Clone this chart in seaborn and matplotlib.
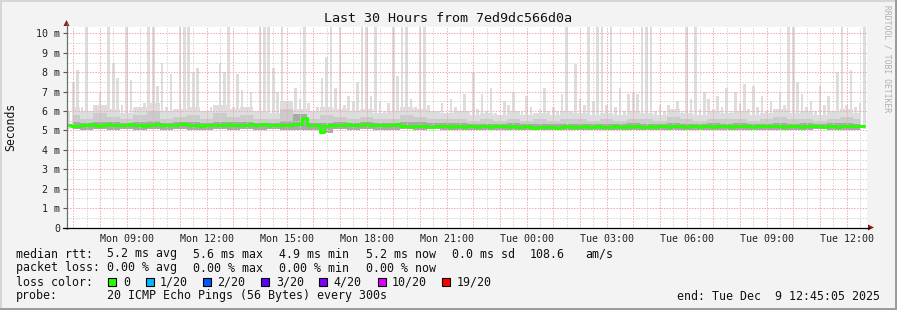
import numpy as np
import pandas as pd
import matplotlib
matplotlib.use("Agg")
import matplotlib.pyplot as plt
import seaborn as sns
from matplotlib.lines import Line2D
from matplotlib.patches import Rectangle, Polygon

# ---------------- data ----------------
title = "Last 30 Hours from 7ed9dc566d0a"
y_label = "Seconds"
watermark = "RRDTOOL / TOBI OETIKER"

step_min = 10          # fine resolution (minutes) for max / median
smoke_step_min = 30    # coarse resolution for inner smoke bands

# top of outer smoke (ms); 10.5 = off the top of the scale
max_rtt = [
    6.0, 7.5, 8.1, 6.2, 10.5, 5.8, 5.9, 7.0, 6.1, 10.5,
    8.5, 7.7, 6.3, 10.5, 7.6, 6.0, 5.9, 6.4, 10.5, 10.5,
    7.3, 8.5, 6.2, 7.9, 6.0, 10.5, 10.5, 10.5, 8.0, 8.2,
    6.0, 5.8, 6.2, 5.9, 8.5, 8.0, 10.5, 6.2, 7.9, 7.1,
    6.2, 7.0, 6.0, 10.5, 10.5, 10.5, 8.2, 7.0, 10.5, 6.0,
    6.3, 7.2, 6.6, 10.5, 6.4, 6.0, 6.2, 7.7, 8.8, 10.5,
    7.2, 10.5, 6.3, 6.8, 6.5, 7.5, 10.5, 10.5, 6.8, 10.5,
    6.5, 6.0, 6.4, 10.5, 7.8, 10.5, 10.5, 6.6, 6.2, 10.5,
    10.5, 6.3, 6.0, 5.9, 6.4, 5.9, 6.6, 6.2, 5.9, 6.9,
    6.0, 8.0, 6.1, 6.9, 6.0, 7.2, 5.9, 5.8, 6.5, 6.3,
    7.0, 5.8, 6.0, 6.8, 6.2, 5.9, 6.1, 7.2, 6.0, 6.2,
    6.0, 6.9, 10.5, 6.0, 8.4, 6.6, 6.3, 10.5, 6.5, 10.5,
    10.5, 6.3, 10.5, 6.2, 7.2, 6.0, 6.9, 7.0, 6.9, 10.5,
    10.5, 10.5, 6.0, 6.3, 6.0, 6.3, 5.9, 6.5, 6.0, 10.5,
    6.6, 10.5, 6.1, 7.0, 6.6, 6.1, 6.8, 6.2, 7.2, 6.0,
    7.0, 6.4, 7.4, 6.1, 7.3, 6.2, 6.8, 6.0, 6.5, 6.1,
    7.0, 6.3, 10.5, 10.5, 7.5, 6.9, 6.2, 6.5, 6.0, 7.3,
    6.3, 6.8, 6.0, 8.0, 10.5, 6.3, 8.1, 6.2, 6.4, 10.5,
]

median_rtt = [
    5.28, 5.25, 5.22, 5.30, 5.27, 5.32, 5.28, 5.25, 5.30, 5.33,
    5.28, 5.26, 5.30, 5.28, 5.35, 5.30, 5.27, 5.25, 5.30, 5.28,
    5.32, 5.28, 5.30, 5.26, 5.29, 5.35, 5.31, 5.28, 5.30, 5.27,
    5.25, 5.28, 5.30, 5.26, 5.29, 5.27, 5.32, 5.28, 5.30, 5.26,
    5.28, 5.31, 5.27, 5.30, 5.33, 5.29, 5.26, 5.28, 5.30, 5.27,
    5.29, 5.31, 5.35, 5.62, 5.30, 5.28, 5.26, 4.90, 5.25, 5.28,
    5.30, 5.27, 5.29, 5.31, 5.28, 5.26, 5.30, 5.32, 5.29, 5.27,
    5.30, 5.28, 5.26, 5.29, 5.31, 5.22, 5.24, 5.20, 5.22, 5.25,
    5.22, 5.20, 5.18, 5.22, 5.24, 5.21, 5.19, 5.23, 5.22, 5.20,
    5.24, 5.22, 5.19, 5.21, 5.23, 5.20, 5.22, 5.24, 5.21, 5.19,
    5.22, 5.20, 5.18, 5.21, 5.17, 5.15, 5.18, 5.16, 5.20, 5.17,
    5.15, 5.19, 5.21, 5.18, 5.16, 5.20, 5.22, 5.19, 5.17, 5.21,
    5.18, 5.16, 5.20, 5.22, 5.18, 5.17, 5.21, 5.19, 5.23, 5.20,
    5.18, 5.22, 5.20, 5.24, 5.21, 5.19, 5.22, 5.25, 5.21, 5.20,
    5.23, 5.21, 5.19, 5.22, 5.24, 5.20, 5.22, 5.25, 5.21, 5.19,
    5.23, 5.21, 5.24, 5.22, 5.20, 5.23, 5.25, 5.21, 5.22, 5.24,
    5.21, 5.19, 5.23, 5.25, 5.22, 5.20, 5.24, 5.21, 5.23, 5.22,
    5.20, 5.24, 5.22, 5.19, 5.23, 5.25, 5.21, 5.22, 5.24, 5.22,
]

smoke_lo = [
    5.05, 5.02, 5.06, 5.04, 5.05, 5.03, 5.06, 5.04, 5.05, 5.02,
    5.04, 5.06, 5.03, 5.05, 5.04, 5.06, 5.03, 5.00, 5.04, 4.85,
    5.05, 5.03, 5.06, 5.04, 5.02, 5.05, 5.03, 5.06, 5.04, 5.02,
    5.00, 5.03, 5.01, 5.04, 5.00, 5.02, 5.01, 5.03, 5.00, 5.02,
    5.03, 5.00, 5.02, 5.04, 5.01, 5.03, 5.02, 5.00, 5.04, 5.02,
    5.03, 5.01, 5.04, 5.02, 5.00, 5.03, 5.05, 5.02, 5.04, 5.03,
]
smoke_light = [
    6.2, 6.0, 6.3, 6.1, 5.9, 6.2, 6.4, 6.0, 6.1, 6.2,
    6.0, 6.3, 6.1, 6.2, 6.0, 5.9, 6.5, 6.1, 6.0, 6.2,
    6.1, 6.0, 6.1, 5.9, 6.0, 6.2, 6.1, 6.0, 5.9, 6.0,
    5.8, 5.9, 5.8, 6.0, 5.8, 5.9, 5.8, 6.0, 5.9, 5.8,
    5.9, 5.8, 6.0, 5.9, 5.8, 6.1, 5.9, 5.8, 6.0, 5.9,
    6.0, 5.8, 5.9, 6.1, 5.9, 6.0, 5.8, 6.0, 6.1, 5.9,
]
smoke_mid = [
    5.8, 5.6, 5.9, 5.7, 5.6, 5.8, 6.0, 5.6, 5.7, 5.8,
    5.6, 5.9, 5.7, 5.8, 5.6, 5.6, 6.1, 5.8, 5.6, 5.8,
    5.7, 5.6, 5.7, 5.6, 5.6, 5.8, 5.7, 5.6, 5.6, 5.6,
    5.5, 5.6, 5.5, 5.6, 5.5, 5.6, 5.5, 5.6, 5.6, 5.5,
    5.6, 5.5, 5.6, 5.6, 5.5, 5.7, 5.6, 5.5, 5.6, 5.6,
    5.6, 5.5, 5.6, 5.7, 5.6, 5.6, 5.5, 5.6, 5.7, 5.6,
]
smoke_dark = [
    5.42, 5.40, 5.46, 5.41, 5.38, 5.43, 5.48, 5.40, 5.41, 5.44,
    5.40, 5.46, 5.41, 5.43, 5.39, 5.38, 5.47, 5.85, 5.40, 5.36,
    5.41, 5.39, 5.43, 5.37, 5.40, 5.44, 5.41, 5.39, 5.36, 5.38,
    5.33, 5.35, 5.32, 5.36, 5.32, 5.35, 5.31, 5.35, 5.33, 5.32,
    5.35, 5.32, 5.36, 5.34, 5.31, 5.38, 5.35, 5.32, 5.36, 5.35,
    5.36, 5.33, 5.35, 5.39, 5.35, 5.37, 5.33, 5.36, 5.39, 5.35,
]

x_tick_hours = [2.25, 5.25, 8.25, 11.25, 14.25, 17.25, 20.25, 23.25, 26.25, 29.25]
x_tick_labels = ["Mon 09:00", "Mon 12:00", "Mon 15:00", "Mon 18:00", "Mon 21:00",
                 "Tue 00:00", "Tue 03:00", "Tue 06:00", "Tue 09:00", "Tue 12:00"]
y_ticks = [0, 1, 2, 3, 4, 5, 6, 7, 8, 9, 10]
y_tick_labels = ["0", "1 m", "2 m", "3 m", "4 m", "5 m", "6 m", "7 m", "8 m", "9 m", "10 m"]

stats_rtt = ["5.2 ms avg", "5.6 ms max", "4.9 ms min", "5.2 ms now", "0.0 ms sd", "108.6", "am/s"]
stats_loss = ["0.00 % avg", "0.00 % max", "0.00 % min", "0.00 % now"]
loss_labels = ["0", "1/20", "2/20", "3/20", "4/20", "10/20", "19/20"]
loss_colors = ["#26ff00", "#00b8ff", "#0059ff", "#5e00ff", "#7e00ff", "#dd00ff", "#ff0000"]
probe_text = "20 ICMP Echo Pings (56 Bytes) every 300s"
end_text = "end: Tue Dec  9 12:45:05 2025"

# ---------------- style ----------------
W, H = 897, 310
sns.set_style("white")
plt.rcParams["font.family"] = ["DejaVu Sans Mono"]
MONO = "DejaVu Sans Mono"

def fx(x):
    return x / W

def fy(y):
    return 1 - y / H

fig = plt.figure(figsize=(W / 100, H / 100), dpi=100, facecolor="#f3f3f3")
ax = fig.add_axes([fx(66.5), fy(227.5), 800 / W, 200.5 / H])
ax.set_facecolor("white")
ax.set_xlim(0, 30)
ax.set_ylim(0, 10.33)
for s in ax.spines.values():
    s.set_visible(False)

# ---------------- smoke + median ----------------
t_fine = (np.arange(len(max_rtt)) + 0.5) * step_min / 60
t_coarse = (np.arange(len(smoke_lo)) + 0.5) * smoke_step_min / 60
base = 5.1
ax.bar(t_fine, np.array(max_rtt) - base, bottom=base, width=0.6 * step_min / 60,
       color="#dddddd", lw=0, zorder=1)
ax.fill_between(t_coarse, smoke_lo, smoke_light, step="mid", color="#dddddd", lw=0, zorder=1.05)
ax.fill_between(t_coarse, smoke_lo, smoke_mid, step="mid", color="#cbcbcb", lw=0, zorder=1.1)
ax.fill_between(t_coarse, smoke_lo, smoke_dark, step="mid", color="#a9a9a9", lw=0, zorder=1.2)

df = pd.DataFrame({"hours": t_fine, "median": median_rtt})
sns.lineplot(data=df, x="hours", y="median", ax=ax, color="#26ff00", lw=2.2,
             drawstyle="steps-mid", zorder=4, legend=False)

# ---------------- grid ----------------
red = "#f2a8a8"
gray = "#d4d4d4"
dash = (0, (1.4, 1.4))
for h in np.arange(0.75, 30, 1.0):
    ax.axvline(h, color=gray, lw=0.72, ls=dash, zorder=2.5)
for h in np.arange(0.25, 30, 1.0):
    ax.axvline(h, color=red, lw=0.72, ls=dash, zorder=2.6)
for v in np.arange(0.5, 10.4, 1.0):
    ax.axhline(v, color=gray, lw=0.72, ls=dash, zorder=2.5)
for v in y_ticks[1:]:
    ax.axhline(v, color=red, lw=0.72, ls=dash, zorder=2.6)

ax.set_xticks(x_tick_hours)
ax.set_xticklabels(x_tick_labels, fontsize=7.2, family=MONO, color="#222222")
ax.set_yticks(y_ticks)
ax.set_yticklabels(y_tick_labels, fontsize=7.2, family=MONO, color="#222222")
ax.tick_params(axis="x", length=0, pad=4.5)
ax.tick_params(axis="y", length=3, width=0.8, color="#555555", pad=1.6, left=True)
ax.set_xlabel("")
ax.set_ylabel("")

# ---------------- axes lines & arrows ----------------
fig.add_artist(Line2D([fx(66.5), fx(66.5)], [fy(229), fy(23)], color="#6e6e6e", lw=0.9))
fig.add_artist(Line2D([fx(63), fx(869)], [fy(227.5), fy(227.5)], color="#000000", lw=0.9))
fig.add_artist(Polygon([(fx(63.5), fy(26)), (fx(69.5), fy(26)), (fx(66.5), fy(20))],
                       closed=True, color="#8b1a1a", lw=0))
fig.add_artist(Polygon([(fx(868), fy(224.5)), (fx(868), fy(230.5)), (fx(874), fy(227.5))],
                       closed=True, color="#8b1a1a", lw=0))

# ---------------- texts ----------------
fig.text(fx(448), fy(19), title, ha="center", va="center", fontsize=9.6, family=MONO, color="#111111")
fig.text(fx(11), fy(127), y_label, ha="center", va="center", rotation=90, fontsize=8.3,
         family=MONO, color="#111111")
fig.text(fx(887), fy(59), watermark, ha="center", va="center", rotation=270, fontsize=5.8,
         family=MONO, color="#b0b0b0")

fs = 8.4
tc = "#111111"
fig.text(fx(16), fy(254), "median rtt:", ha="left", va="center", fontsize=fs, family=MONO, color=tc)
for xp, s in zip([107, 193, 279, 366, 452, 530, 585], stats_rtt):
    fig.text(fx(xp), fy(254), s, ha="left", va="center", fontsize=fs, family=MONO, color=tc)
fig.text(fx(16), fy(268), "packet loss:", ha="left", va="center", fontsize=fs, family=MONO, color=tc)
for xp, s in zip([107, 193, 279, 366], stats_loss):
    fig.text(fx(xp), fy(268), s, ha="left", va="center", fontsize=fs, family=MONO, color=tc)
fig.text(fx(16), fy(282), "loss color:", ha="left", va="center", fontsize=fs, family=MONO, color=tc)
box_x = [108, 146, 203, 261, 319, 378, 442]
lab_x = [123, 160, 217, 276, 333, 392, 457]
for bx, lx, lab, col in zip(box_x, lab_x, loss_labels, loss_colors):
    fig.add_artist(Rectangle((fx(bx), fy(286)), 8 / W, 8 / H, facecolor=col,
                             edgecolor="#000000", lw=0.8))
    fig.text(fx(lx), fy(282), lab, ha="left", va="center", fontsize=fs, family=MONO, color=tc)
fig.text(fx(16), fy(296), "probe:", ha="left", va="center", fontsize=fs, family=MONO, color=tc)
fig.text(fx(107), fy(296), probe_text, ha="left", va="center", fontsize=fs, family=MONO, color=tc)
fig.text(fx(880), fy(296), end_text, ha="right", va="center", fontsize=fs, family=MONO, color=tc)

# ---------------- frame ----------------
fig.add_artist(Rectangle((0, fy(2)), 1, 2 / H, facecolor="#d6d6d6", lw=0))
fig.add_artist(Rectangle((0, 0), 2 / W, 1, facecolor="#d6d6d6", lw=0))
fig.add_artist(Rectangle((0, 0), 1, 2 / H, facecolor="#9c9c9c", lw=0))
fig.add_artist(Rectangle((fx(895), 0), 2 / W, 1, facecolor="#9c9c9c", lw=0))

fig.savefig("out.png", dpi=100, facecolor=fig.get_facecolor())
